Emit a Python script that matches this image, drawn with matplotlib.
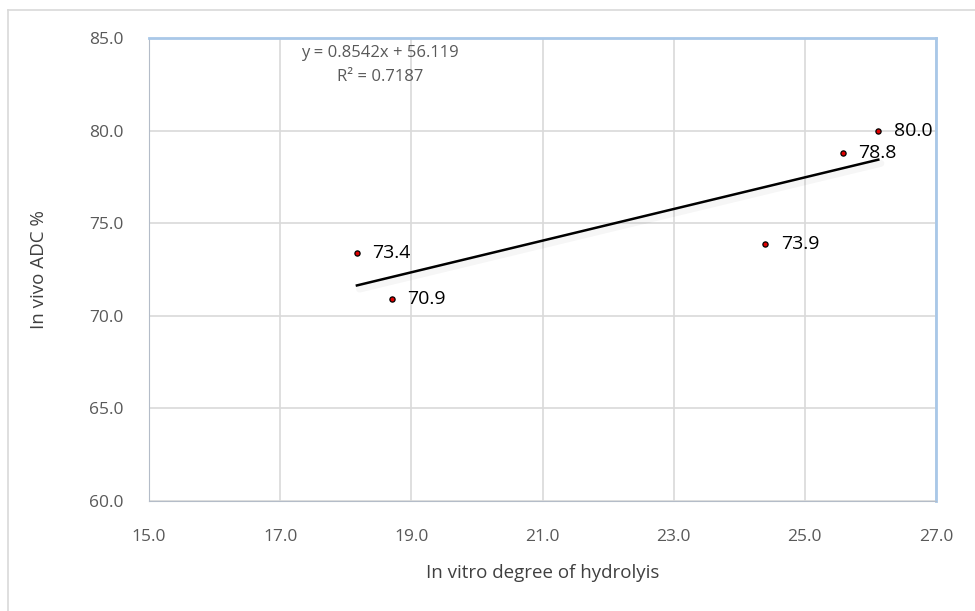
import matplotlib.pyplot as plt
from matplotlib.lines import Line2D
import numpy as np

hydrolysis = [18.17, 18.71, 24.40, 25.58, 26.12]
adc = [73.4, 70.9, 73.9, 78.8, 80.0]
point_labels = ["73.4", "70.9", "73.9", "78.8", "80.0"]
slope = 0.8542
intercept = 56.119
x_ticks = [15.0, 17.0, 19.0, 21.0, 23.0, 25.0, 27.0]
y_ticks = [60.0, 65.0, 70.0, 75.0, 80.0, 85.0]

plt.rcParams["font.family"] = ["Open Sans", "DejaVu Sans"]

fig = plt.figure(figsize=(9.75, 6.11), dpi=100)
ax = fig.add_axes([149 / 975, 1 - 501 / 611, (936 - 149) / 975, (501 - 38) / 611])

# outer chart frame
fig.add_artist(Line2D([8 / 975, 8 / 975], [0, 1 - 10 / 611], transform=fig.transFigure, color="#d9d9d9", lw=1.2))
fig.add_artist(Line2D([8 / 975, 1], [1 - 10 / 611, 1 - 10 / 611], transform=fig.transFigure, color="#d9d9d9", lw=1.2))

ax.set_xlim(15, 27)
ax.set_ylim(60, 85)
ax.set_xticks(x_ticks)
ax.set_yticks(y_ticks)
ax.set_xticklabels([f"{t:.1f}" for t in x_ticks])
ax.set_yticklabels([f"{t:.1f}" for t in y_ticks])
ax.grid(True, color="#d9d9d9", lw=1.2)
ax.set_axisbelow(True)
ax.tick_params(length=0, labelsize=12.5, labelcolor="#595959")
ax.tick_params(axis="y", pad=18)
ax.tick_params(axis="x", pad=20)
for side in ["left", "bottom"]:
    ax.spines[side].set_color("#b4bcc8")
for side in ["top", "right"]:
    ax.spines[side].set_color("#a9c8e8")
    ax.spines[side].set_linewidth(2)

# trendline with faint shadow
xs = np.array([min(hydrolysis), max(hydrolysis)])
ax.plot(xs + 0.04, slope * xs + intercept - 0.2, color="#000000", alpha=0.035, lw=5, solid_capstyle="round")
ax.plot(xs, slope * xs + intercept, color="black", lw=1.8, zorder=3)

ax.scatter(hydrolysis, adc, s=14, color="#e00000", edgecolors="black", linewidths=0.9, zorder=4)
for x, y, lab in zip(hydrolysis, adc, point_labels):
    ax.annotate(lab, (x, y), xytext=(11, 0), textcoords="offset points", va="center", ha="left",
                fontsize=14, color="black")

ax.text(18.52, 84.2, "y = 0.8542x + 56.119", ha="center", va="center", fontsize=12, color="#595959")
ax.text(18.52, 82.9, "R² = 0.7187", ha="center", va="center", fontsize=12, color="#595959")

ax.set_xlabel("In vitro degree of hydrolyis", fontsize=13.5, color="#404040", labelpad=14)
ax.set_ylabel("In vivo ADC %", fontsize=13.5, color="#404040", labelpad=30)

fig.savefig("out.png", dpi=100)
